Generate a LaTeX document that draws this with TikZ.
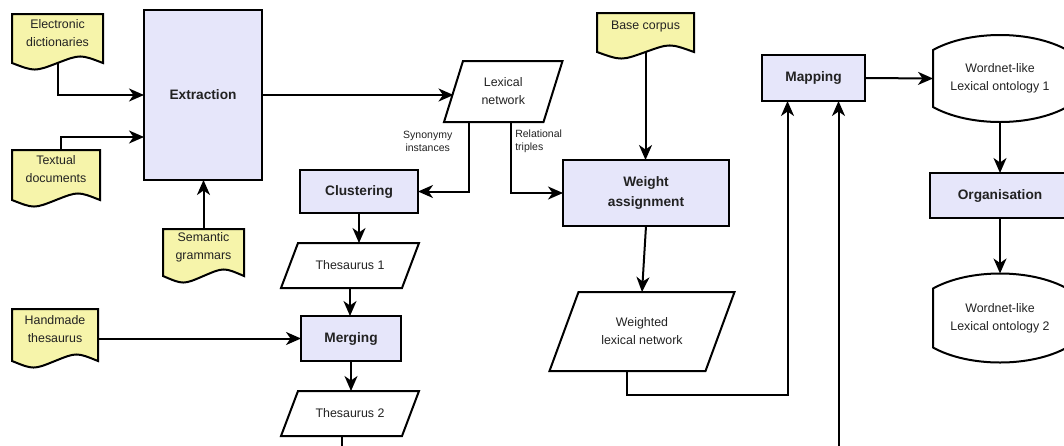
\documentclass[tikz,border=0pt]{standalone}
\usepackage{fontspec}
\setmainfont{Liberation Sans}
\usetikzlibrary{arrows.meta,calc,backgrounds}
\definecolor{procfill}{HTML}{E6E6FA}
\definecolor{docfill}{HTML}{F6F4AA}
\definecolor{txt}{HTML}{222222}
\newcommand\docoutline[1]{%
  \draw[shapeline, fill=docfill] (#1.north west) -- (#1.north east) -- ($(#1.south east)+(0,11)$)
    .. controls ($(#1.south west)!0.75!(#1.south east)+(0,2.3)$) .. ($(#1.south)+(0,11)$)
    .. controls ($(#1.south west)!0.25!(#1.south east)+(0,19.7)$) .. ($(#1.south west)+(0,11)$) -- cycle;}
\newcommand\iooutline[2]{%
  \draw[shapeline, fill=white] ($(#1.north west)+(#2/2,0)$) -- ($(#1.north east)+(#2/2,0)$)
    -- ($(#1.south east)+(-#2/2,0)$) -- ($(#1.south west)+(-#2/2,0)$) -- cycle;}
\newcommand\storeoutline[1]{%
  \draw[shapeline, fill=white] ($(#1.north west)+(0,15)$)
    .. controls ($(#1.north west)+(36,-5)$) and ($(#1.north east)+(-36,-5)$) .. ($(#1.north east)+(0,15)$)
    -- ($(#1.south east)+(0,-15)$)
    .. controls ($(#1.south east)+(-36,5)$) and ($(#1.south west)+(36,5)$) .. ($(#1.south west)+(0,-15)$) -- cycle;}
\begin{document}
\begin{tikzpicture}[x=1pt,y=-1pt,
  every node/.style={inner sep=0pt, outer sep=0pt, text=txt},
  shapeline/.style={draw=black, line width=2pt},
  proc/.style={shapeline, fill=procfill, font=\fontsize{13.7}{20}\selectfont\bfseries, align=center},
  doc/.style={font=\fontsize{12.4}{18}\selectfont, align=center},
  io/.style={font=\fontsize{12.4}{18}\selectfont, align=center},
  store/.style={font=\fontsize{12.4}{18}\selectfont, align=center},
  lbl/.style={font=\fontsize{10.5}{13.3}\selectfont, inner sep=1pt},
  conn/.style={draw=black, line width=2pt},
  arr/.style={conn, -{Stealth[length=15pt,width=13pt,inset=4.5pt]}}]
\useasboundingbox (0,0) rectangle (1064,445);

% process boxes
\node[proc, minimum width=118pt, minimum height=170pt] (ext) at (203,95) {Extraction};
\node[proc, minimum width=118pt, minimum height=43pt] (clu) at (359,191.5) {Clustering};
\node[proc, minimum width=100pt, minimum height=45pt] (mrg) at (351,338.5) {Merging};
\node[proc, minimum width=166pt, minimum height=66pt] (wa) at (646,193) {Weight\\assignment};
\node[proc, minimum width=103pt, minimum height=46pt] (map) at (813.5,78) {Mapping};
\node[proc, minimum width=140pt, minimum height=45pt] (org) at (1000,195.5) {Organisation};

% documents
\node[doc, minimum width=91pt, minimum height=38pt] (ed) at (57.5,33) {Electronic\\dictionaries};
\node[doc, minimum width=88pt, minimum height=39pt] (td) at (56,169.5) {Textual\\documents};
\node[doc, minimum width=81pt, minimum height=36pt] (sg) at (203.5,247) {Semantic\\grammars};
\node[doc, minimum width=86pt, minimum height=41pt] (ht) at (55,329.5) {Handmade\\thesaurus};
\node[doc, minimum width=97pt, minimum height=28pt] (bc) at (645.5,27) {Base corpus};

% data (parallelograms)
\node[io, minimum width=99.5pt, minimum height=61pt] (lex) at (503.25,91.5) {Lexical\\network};
\node[io, minimum width=121pt, minimum height=45pt] (th1) at (350,265.5) {Thesaurus 1};
\node[io, minimum width=121pt, minimum height=45pt] (th2) at (350,413.5) {Thesaurus 2};
\node[io, minimum width=156pt, minimum height=79pt] (wln) at (642,331.5) {Weighted\\lexical network};

% storage
\node[store, minimum width=134pt, minimum height=87pt] (ont1) at (1000,78.5) {Wordnet-like\\Lexical ontology 1};
\node[store, minimum width=134pt, minimum height=89pt] (ont2) at (1000,318) {Wordnet-like\\Lexical ontology 2};

\begin{scope}[on background layer]
  \fill[white] (0,0) rectangle (1064,445);
  \docoutline{ed}\docoutline{td}\docoutline{sg}\docoutline{ht}\docoutline{bc}
  \iooutline{lex}{19}\iooutline{th1}{17}\iooutline{th2}{17}\iooutline{wln}{29}
  \storeoutline{ont1}\storeoutline{ont2}
\end{scope}

% connectors
\coordinate (edb) at ($(ed.south)+(0,11)$);
\draw[arr] (edb) |- (ext.west);
\coordinate (ext-in2) at ($(ext.west)+(0,42)$);
\draw[arr] ($(td.north)+(5,0)$) |- (ext-in2);
\draw[arr] (sg.north) -- (sg.north |- ext.south);
\draw[arr] (ext.east) -- (ext.east -| lex.west);
\coordinate (lex-s1) at ($(lex.south)+(-34,0)$);
\coordinate (lex-s2) at ($(lex.south)+(8,0)$);
\draw[arr] (lex-s1) |- (clu.east);
\draw[arr] (lex-s2) |- (wa.west);
\node[lbl, anchor=east, align=center] (syn) at ($(lex-s1)+(-16,19.5)$) {Synonymy\\instances};
\node[lbl, anchor=west, align=left] (rel) at ($(lex-s2)+(3,19.5)$) {Relational\\triples};
\draw[arr] (clu.south) -- (clu.south |- th1.north);
\draw[arr] (th1.south) -- (th1.south |- mrg.north);
\draw[arr] (mrg.south) -- (mrg.south |- th2.north);
\draw[arr] (ht.east |- mrg.west) -- (mrg.west);
\coordinate (th2-end) at ($(th2.south)+(-8,20)$);
\draw[conn] (th2-end |- th2.south) -- (th2-end);
\coordinate (bcb) at ($(bc.south)+(0,11)$);
\draw[arr] (bcb) -- (bcb |- wa.north);
\draw[arr] (wa.south) -- (wln.north);
\coordinate (wln-s) at ($(wln.south)+(-15,0)$);
\coordinate (map-in1) at ($(map.south)+(-26,0)$);
\coordinate (map-in2) at ($(map.south)+(25,0)$);
\coordinate (map-src) at ($(map.south)+(25,360)$);
\draw[arr] (wln-s) -- ++(0,24) -| (map-in1);
\draw[arr] (map-src) -- (map-in2);
\draw[arr] (map.east) -- (ont1.west);
\draw[arr] (ont1.south) -- (org.north);
\draw[arr] (org.south) -- (ont2.north);
\end{tikzpicture}
\end{document}
